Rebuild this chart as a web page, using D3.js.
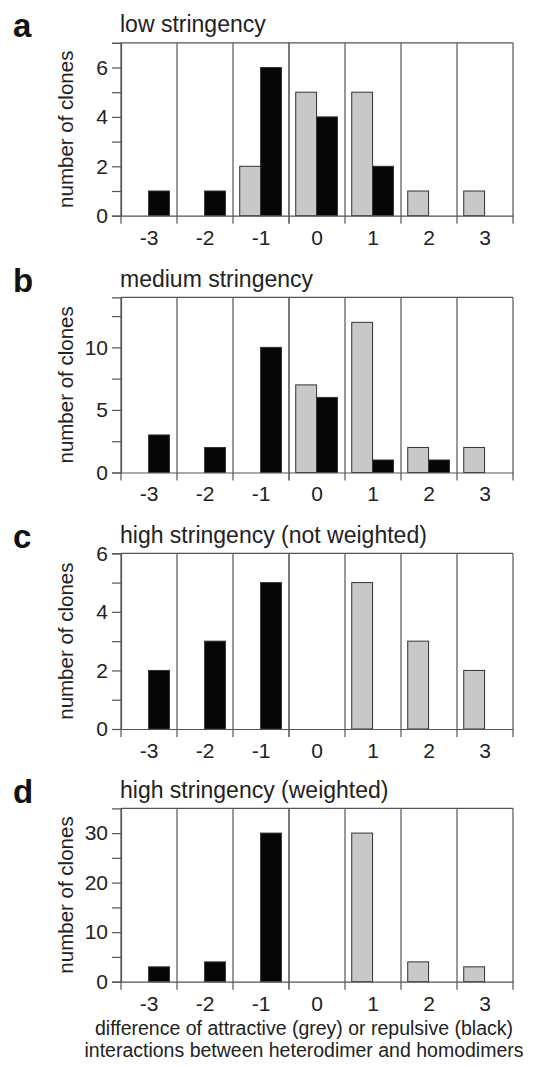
<!DOCTYPE html>
<html>
<head>
<meta charset="utf-8">
<script src="https://cdn.jsdelivr.net/npm/d3@7"></script>
<style>
  body { margin: 0; background: #fff; }
  svg text { font-family: "Liberation Sans", Arial, sans-serif; fill: #222; }
</style>
</head>
<body>
<div id="chart"></div>
<script>
// categories on the x axis
var categories = ["-3", "-2", "-1", "0", "1", "2", "3"];

// number of clones, grey = attractive, black = repulsive
var lowGrey = [0, 0, 2, 5, 5, 1, 1];
var lowBlack = [1, 1, 6, 4, 2, 0, 0];
var mediumGrey = [0, 0, 0, 7, 12, 2, 2];
var mediumBlack = [3, 2, 10, 6, 1, 1, 0];
var highGrey = [0, 0, 0, 0, 5, 3, 2];
var highBlack = [2, 3, 5, 0, 0, 0, 0];
var weightedGrey = [0, 0, 0, 0, 30, 4, 3];
var weightedBlack = [3, 4, 30, 0, 0, 0, 0];

// y tick values (all) and the labelled ones
var lowTicks = [0, 1, 2, 3, 4, 5, 6, 7], lowLabels = [0, 2, 4, 6];
var mediumTicks = [0, 2.5, 5, 7.5, 10, 12.5], mediumLabels = [0, 5, 10];
var highTicks = [0, 1, 2, 3, 4, 5, 6], highLabels = [0, 2, 4, 6];
var weightedTicks = [0, 5, 10, 15, 20, 25, 30], weightedLabels = [0, 10, 20, 30];

var panels = [
  {letter: "a", title: "low stringency", grey: lowGrey, black: lowBlack,
   max: 7, ticks: lowTicks, labels: lowLabels, top: 42.8, bottom: 215.7},
  {letter: "b", title: "medium stringency", grey: mediumGrey, black: mediumBlack,
   max: 14, ticks: mediumTicks, labels: mediumLabels, top: 297.3, bottom: 472.5},
  {letter: "c", title: "high stringency (not weighted)", grey: highGrey, black: highBlack,
   max: 6, ticks: highTicks, labels: highLabels, top: 553.3, bottom: 729},
  {letter: "d", title: "high stringency (weighted)", grey: weightedGrey, black: weightedBlack,
   max: 35, ticks: weightedTicks, labels: weightedLabels, top: 808.3, bottom: 981.7}
];

var width = 542, height = 1066;
var left = 121, right = 513;
var lineColor = "#555";

var svg = d3.select("#chart").append("svg")
  .attr("width", width)
  .attr("height", height);

var xScale = d3.scaleBand()
  .domain(categories)
  .range([left, right])
  .paddingInner(0)
  .paddingOuter(0);

var bw = xScale.bandwidth();
var slot = d3.scaleBand()
  .domain(["grey", "black"])
  .range([bw * 0.12, bw * 0.865]);

panels.forEach(function(p) {
  var g = svg.append("g");

  var yScale = d3.scaleLinear()
    .domain([0, p.max])
    .range([p.bottom, p.top]);

  // panel letter and title
  g.append("text")
    .attr("x", 13)
    .attr("y", p.top - 5.5)
    .style("font-size", "33px")
    .style("font-weight", "bold")
    .style("fill", "#111")
    .text(p.letter);

  g.append("text")
    .attr("x", 120)
    .attr("y", p.top - 10.5)
    .style("font-size", "23px")
    .text(p.title);

  // vertical separators between categories (extend below as ticks)
  var bounds = categories.map(function(c) { return xScale(c); }).concat([right]);
  g.selectAll("line.sep")
    .data(bounds)
    .enter()
    .append("line")
    .attr("class", "sep")
    .attr("x1", function(d) { return d; })
    .attr("x2", function(d) { return d; })
    .attr("y1", p.top)
    .attr("y2", p.bottom + 8)
    .attr("stroke", function(d, i) { return i === 3 ? "#222" : lineColor; })
    .attr("stroke-width", 1.2);

  // top frame line
  g.append("line")
    .attr("x1", left).attr("x2", right)
    .attr("y1", p.top).attr("y2", p.top)
    .attr("stroke", lineColor)
    .attr("stroke-width", 1.2);

  // bars
  var rows = [];
  categories.forEach(function(c, i) {
    if (p.grey[i] > 0) rows.push({cat: c, kind: "grey", value: p.grey[i]});
    if (p.black[i] > 0) rows.push({cat: c, kind: "black", value: p.black[i]});
  });

  g.selectAll("rect")
    .data(rows)
    .enter()
    .append("rect")
    .attr("x", function(d) { return xScale(d.cat) + slot(d.kind); })
    .attr("y", function(d) { return yScale(d.value); })
    .attr("width", slot.bandwidth())
    .attr("height", function(d) { return p.bottom - yScale(d.value); })
    .attr("fill", function(d) { return d.kind === "grey" ? "#c8c8c8" : "#060606"; })
    .attr("stroke", "#333")
    .attr("stroke-width", 1);

  // y axis
  var yAxis = d3.axisLeft(yScale)
    .tickValues(p.ticks)
    .tickSize(9)
    .tickPadding(4)
    .tickFormat(function(d) { return p.labels.indexOf(d) >= 0 ? d : ""; });

  var ya = g.append("g")
    .attr("transform", "translate(" + left + ",0)")
    .call(yAxis)
    .attr("font-size", 21);
  ya.select(".domain").attr("stroke", lineColor).attr("stroke-width", 1.2);
  ya.selectAll(".tick line").attr("stroke", lineColor).attr("stroke-width", 1.2);
  ya.selectAll("text").attr("font-size", 21).style("fill", "#222");

  // x axis (labels at category centres)
  var xAxis = d3.axisBottom(xScale)
    .tickSize(0)
    .tickPadding(14);

  var xa = g.append("g")
    .attr("transform", "translate(0," + p.bottom + ")")
    .call(xAxis)
    .attr("font-size", 21);
  xa.select(".domain").attr("stroke", lineColor).attr("stroke-width", 1.2);
  xa.selectAll("text").attr("font-size", 21).style("fill", "#222");

  // y axis title
  g.append("text")
    .attr("transform", "translate(73," + (p.top + p.bottom) / 2 + ") rotate(-90)")
    .attr("text-anchor", "middle")
    .style("font-size", "20.5px")
    .text("number of clones");
});

// x axis title (two lines)
var xTitle = svg.append("text")
  .attr("text-anchor", "middle")
  .style("font-size", "19.5px");
xTitle.append("tspan").attr("x", 304).attr("y", 1035)
  .text("difference of attractive (grey) or repulsive (black)");
xTitle.append("tspan").attr("x", 304).attr("y", 1057)
  .text("interactions between heterodimer and homodimers");
</script>
</body>
</html>
